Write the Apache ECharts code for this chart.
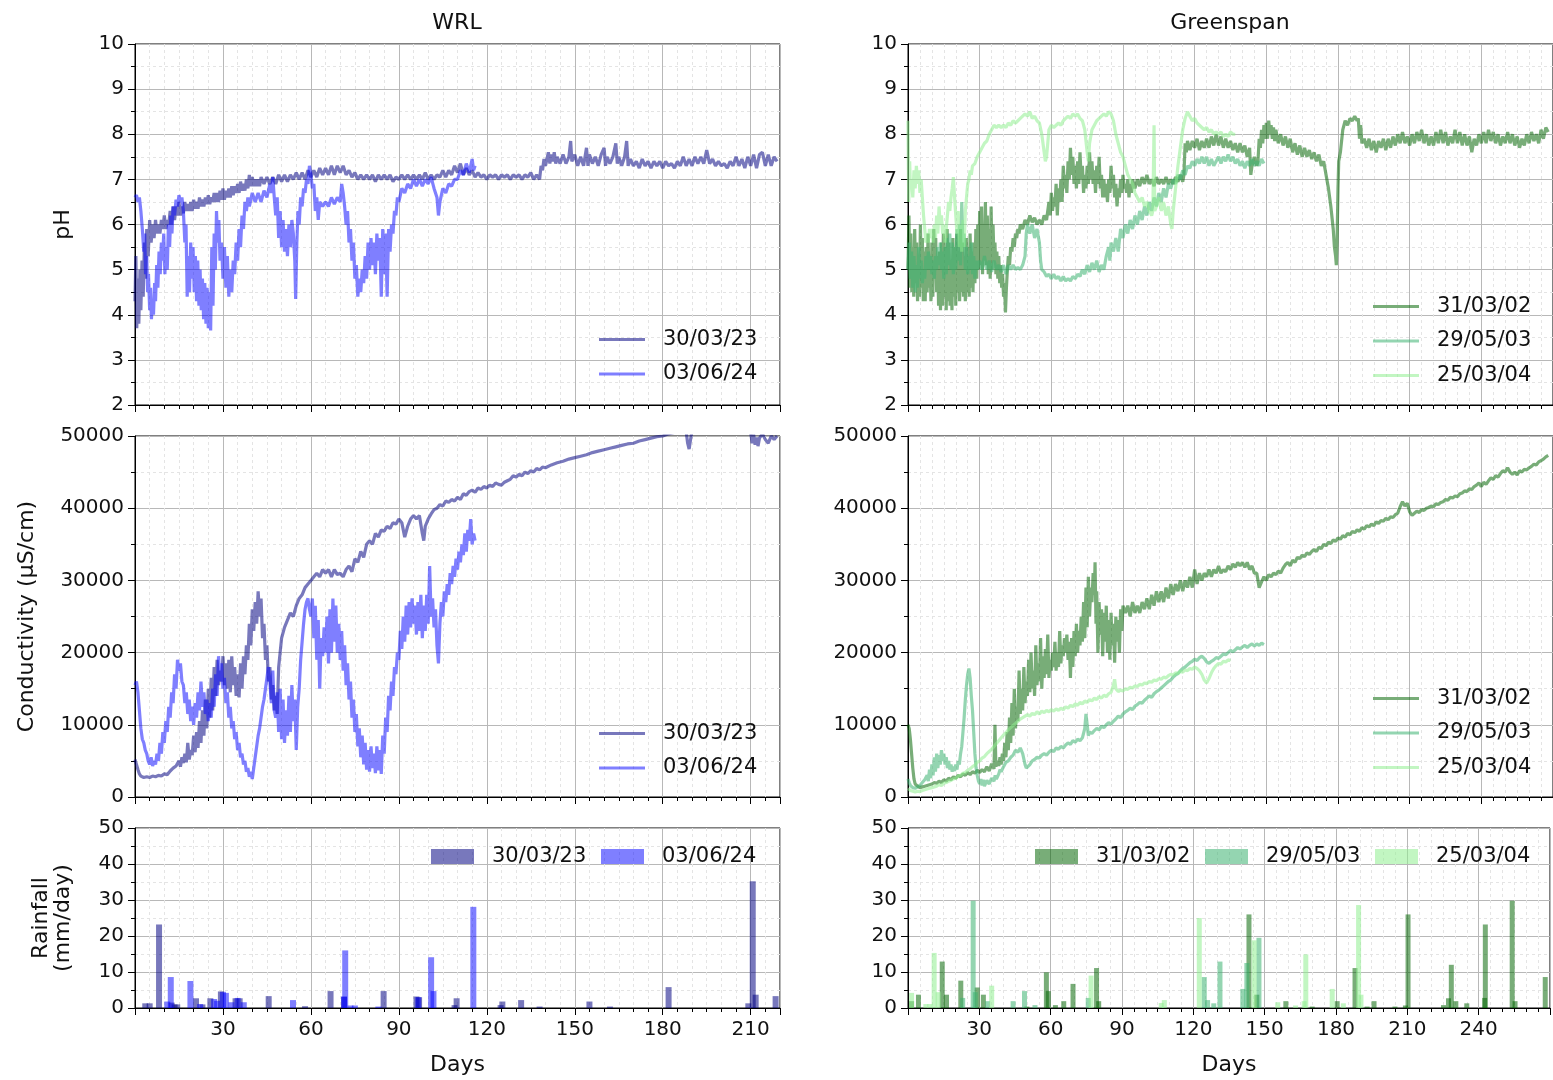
<!DOCTYPE html>
<html><head><meta charset="utf-8">
<script src="https://cdn.jsdelivr.net/npm/echarts@6/dist/echarts.min.js"></script>
<style>html,body{margin:0;padding:0;background:#fff}#c{width:1553px;height:1080px}</style>
</head><body><div id="c"></div>
<script>
// ---------------- DATA ----------------
const wrlNames = ['30/03/23', '03/06/24'];
const grnNames = ['31/03/02', '29/05/03', '25/03/04'];
const xTicksLeft = [30, 60, 90, 120, 150, 180, 210];
const xTicksRight = [30, 60, 90, 120, 150, 180, 210, 240];

// WRL pH
const wrlPh2023 = [[0,4.3],[0.3,5.3],[0.6,3.7],[1,4.8],[1.3,3.8],[1.7,5.0],[2,4.1],[2.4,5.2],[2.8,4.4],[3.2,5.6],[3.6,4.8],[4,5.9],[4.5,5.3],[5,6.1],[5.5,5.6],[6,6.0],[6.5,5.7],[7,6.1],[7.5,5.8],[8,6.0],[8.5,5.8],[9,6.1],[9.5,5.9],[10,6.2],[10.5,5.9],[11,6.1],[11.5,6.0],[12,6.3],[12.5,6.0],[13,6.4],[13.5,6.1],[14,6.4],[14.5,6.2],[15,6.5],[15.5,6.2],[16,6.4],[16.5,6.25],[17,6.5],[17.5,6.3],[18,6.45],[18.5,6.3],[19,6.5],[19.5,6.3],[20,6.55],[20.5,6.35],[21,6.5],[21.5,6.35],[22,6.6],[22.5,6.4],[23,6.55],[23.5,6.4],[24,6.6],[24.5,6.45],[25,6.65],[25.5,6.45],[26,6.6],[26.5,6.5],[27,6.7],[27.5,6.5],[28,6.7],[28.5,6.5],[29,6.75],[29.5,6.55],[30,6.8],[30.5,6.55],[31,6.75],[31.5,6.6],[32,6.8],[32.5,6.6],[33,6.85],[33.5,6.65],[34,6.85],[34.5,6.7],[35,6.9],[35.5,6.7],[36,6.95],[36.5,6.75],[37,6.9],[37.5,6.75],[38,7.0],[38.5,6.8],[39,7.1],[39.5,6.85],[40,7.05],[40.5,6.85],[41,7.0],[41.5,6.85],[42,7.0],[42.5,6.85],[43,7.05],[44,6.9],[45,7.05],[46,6.9],[47,7.05],[48,6.9],[49,7.1],[50,6.95],[51,7.1],[52,6.95],[53,7.1],[54,7.0],[55,7.15],[56,7.0],[57,7.15],[58,7.0],[59,7.2],[60,7.05],[61,7.2],[62,7.05],[63,7.25],[64,7.1],[65,7.25],[66,7.1],[67,7.3],[68,7.1],[69,7.3],[70,7.15],[71,7.3],[72,7.1],[73,7.2],[74,7.05],[75,7.15],[76,7.0],[77,7.1],[78,7.0],[79,7.1],[80,7.0],[81,7.1],[82,6.95],[83,7.1],[84,7.0],[85,7.1],[86,7.0],[87,7.1],[88,6.95],[89,7.05],[90,7.0],[91,7.1],[92,7.0],[93,7.1],[94,7.0],[95,7.1],[96,7.0],[97,7.1],[98,7.0],[99,7.15],[100,7.0],[101,7.1],[102,7.0],[103,7.1],[104,7.05],[105,7.2],[106,7.05],[107,7.2],[108,7.1],[109,7.3],[110,7.15],[111,7.35],[112,7.1],[113,7.25],[114,7.1],[115,7.2],[116,7.05],[117,7.15],[118,7.05],[119,7.1],[120,7.0],[121,7.1],[122,7.05],[123,7.1],[124,7.0],[125,7.1],[126,7.05],[127,7.1],[128,7.0],[129,7.1],[130,7.05],[131,7.1],[132,7.0],[133,7.1],[134,7.05],[135,7.15],[136,7.0],[137,7.1],[138,7.0],[138.5,7.3],[139,7.2],[139.5,7.45],[140,7.3],[141,7.6],[141.5,7.35],[142,7.55],[142.5,7.4],[143,7.6],[143.5,7.35],[144,7.5],[145,7.35],[146,7.55],[147,7.35],[148,7.5],[148.6,7.85],[149,7.4],[150,7.55],[151,7.3],[152,7.5],[153,7.3],[154,7.7],[154.5,7.3],[155,7.55],[156,7.35],[157,7.5],[158,7.3],[159,7.55],[160,7.7],[160.5,7.3],[161,7.5],[162,7.35],[163,7.5],[164,7.8],[164.5,7.35],[165,7.5],[166,7.3],[167,7.5],[167.7,7.85],[168.2,7.3],[169,7.45],[170,7.3],[171,7.4],[172,7.25],[173,7.45],[174,7.3],[175,7.4],[176,7.25],[177,7.4],[178,7.3],[179,7.4],[180,7.25],[181,7.4],[182,7.3],[183,7.35],[184,7.25],[185,7.4],[186,7.3],[187,7.5],[188,7.3],[189,7.45],[190,7.3],[191,7.5],[192,7.35],[193,7.5],[194,7.35],[195,7.65],[196,7.35],[197,7.45],[198,7.3],[199,7.4],[200,7.3],[201,7.35],[202,7.25],[203,7.4],[204,7.3],[205,7.5],[206,7.3],[207,7.45],[208,7.25],[209,7.5],[210,7.3],[211,7.55],[212,7.25],[213,7.55],[214,7.6],[215,7.3],[216,7.55],[217,7.3],[218,7.5],[219,7.4]];
const wrlPh2024 = [[0,6.6],[0.5,6.65],[1,6.5],[1.5,6.6],[2,6.3],[2.5,5.9],[3,5.4],[3.3,5.8],[3.6,4.9],[4,5.3],[4.3,4.5],[4.6,4.9],[5,4.1],[5.3,4.6],[5.6,3.9],[6,4.3],[6.3,4.0],[6.7,4.7],[7,4.3],[7.4,5.1],[7.8,4.6],[8.2,5.4],[8.6,4.9],[9,5.6],[9.4,5.2],[9.8,5.8],[10.2,4.9],[10.5,5.5],[11,5.0],[11.4,6.0],[11.8,5.5],[12.2,6.2],[12.6,5.8],[13,6.4],[13.5,6.2],[14,6.55],[14.5,6.4],[15,6.65],[15.5,6.5],[16,6.6],[16.5,6.3],[17,5.6],[17.4,6.0],[17.8,4.4],[18.2,5.3],[18.6,4.5],[19,5.6],[19.4,4.8],[19.8,5.5],[20.2,4.5],[20.6,5.3],[21,4.3],[21.4,5.2],[21.8,4.2],[22.2,5.0],[22.6,4.1],[23,4.8],[23.4,3.9],[23.8,4.7],[24.2,3.8],[24.6,4.6],[25,3.7],[25.4,4.5],[25.8,3.65],[26.2,5.5],[26.6,4.2],[27,5.8],[27.4,5.0],[27.8,6.3],[28.2,5.6],[28.6,6.1],[29,5.2],[29.5,5.6],[30,4.8],[30.5,5.5],[31,4.6],[31.5,5.3],[32,4.4],[32.5,5.0],[33,4.5],[33.5,5.2],[34,4.9],[34.5,5.6],[35,5.2],[35.5,5.9],[36,5.5],[36.5,6.2],[37,5.9],[37.5,6.5],[38,6.3],[38.5,6.6],[39,6.4],[40,6.7],[41,6.5],[42,6.7],[43,6.5],[44,6.75],[45,6.6],[46,6.9],[46.5,6.7],[47,7.05],[47.5,6.6],[48,6.2],[48.5,6.6],[49,5.7],[49.5,6.3],[50,5.5],[50.5,6.1],[51,5.4],[51.5,5.9],[52,5.3],[52.5,6.0],[53,5.5],[53.5,6.1],[54,5.8],[54.5,5.2],[54.8,4.35],[55.2,5.6],[55.6,6.3],[56,6.0],[56.5,6.6],[57,6.4],[57.5,6.8],[58,6.7],[58.5,7.0],[59,6.9],[59.5,7.3],[60,7.1],[60.5,6.8],[61,6.9],[61.5,6.3],[62,6.6],[62.5,6.1],[63,6.5],[63.5,6.5],[64,6.4],[65,6.5],[66,6.4],[67,6.6],[68,6.45],[69,6.6],[70,6.5],[70.5,6.9],[71,6.7],[71.5,6.4],[72,6.0],[72.5,6.3],[73,5.6],[73.5,5.9],[74,5.2],[74.5,5.6],[75,4.8],[75.5,5.1],[76,4.4],[76.5,4.8],[77,4.5],[77.5,5.0],[78,4.7],[78.5,5.3],[79,4.8],[79.5,5.6],[80,5.0],[80.5,5.7],[81,5.1],[81.5,5.6],[82,4.9],[82.5,5.8],[83,5.2],[83.5,5.7],[84,4.4],[84.5,5.9],[85,4.9],[85.5,5.8],[86,4.4],[86.5,5.9],[87,5.4],[87.5,6.0],[88,5.8],[88.5,6.3],[89,6.2],[89.5,6.6],[90,6.5],[91,6.8],[92,6.7],[93,6.9],[94,6.8],[95,7.0],[96,6.85],[97,7.0],[98,6.85],[99,7.0],[100,6.9],[101,7.05],[102,6.8],[103,6.6],[103.5,6.2],[104,6.5],[105,6.8],[106,6.7],[107,6.9],[108,6.85],[109,7.0],[110,7.0],[111,7.2],[112,7.1],[113,7.35],[114,7.15],[115,7.45],[115.5,7.2],[116,7.3]];

// WRL conductivity (uS/cm)
const wrlEc2023 = [[0,5200],[0.5,4500],[1,3800],[1.5,3200],[2,2900],[3,2700],[4,2800],[5,2700],[6,2900],[7,2800],[8,3000],[9,2900],[10,3200],[11,3100],[12,3600],[13,4000],[14,4300],[15,5000],[15.5,4200],[16,5500],[16.5,4700],[17,6000],[17.5,4800],[18,7500],[18.5,5200],[19,6500],[19.5,5800],[20,8500],[20.5,6200],[21,9000],[21.5,6800],[22,10500],[22.5,7500],[23,12000],[23.5,8500],[24,13500],[24.5,9500],[25,15000],[25.5,11000],[26,16500],[26.5,12000],[27,18000],[27.5,14000],[28,19000],[28.5,15500],[29,17500],[29.5,16000],[30,19500],[30.5,15500],[31,18500],[31.5,15000],[32,19000],[32.5,14500],[33,19500],[33.5,15500],[34,18000],[34.5,14000],[35,17000],[35.5,13800],[36,18500],[36.5,15000],[37,19500],[37.5,17000],[38,21000],[38.5,19000],[39,24000],[39.5,21000],[40,26000],[40.5,23000],[41,27000],[41.5,24000],[42,28500],[42.5,25000],[43,27500],[43.5,22000],[44,24000],[44.5,19000],[45,21000],[45.5,16000],[46,18000],[46.5,13500],[47,15500],[47.5,12000],[48,14000],[48.5,11500],[49,18000],[49.5,20000],[50,22000],[51,23500],[52,24500],[53,25500],[54,25000],[55,26500],[56,27500],[57,28000],[58,29000],[59,29500],[60,30000],[61,30500],[62,31000],[63,30500],[64,31500],[65,31000],[66,31500],[67,30500],[68,31500],[69,30800],[70,31000],[71,30500],[72,31500],[73,32000],[74,31200],[75,33000],[76,32500],[77,34000],[78,33200],[79,35000],[80,35500],[81,35000],[82,36500],[83,36000],[84,37000],[85,36800],[86,37500],[87,37200],[88,38000],[89,37800],[90,38500],[91,38000],[92,36000],[93,37500],[94,38500],[95,39000],[96,38500],[97,39000],[98,36500],[98.5,35500],[99,37500],[100,38500],[101,39200],[102,39800],[103,40000],[104,40500],[105,40300],[106,41000],[107,40800],[108,41200],[109,41000],[110,41500],[111,41200],[112,42000],[113,41800],[114,42300],[115,42500],[116,42200],[117,42800],[118,42600],[119,43000],[120,42800],[121,43200],[122,43000],[123,43500],[124,43300],[125,43200],[126,43600],[127,43800],[128,44000],[129,44500],[130,44300],[131,44700],[132,44500],[133,45000],[134,44800],[135,45200],[136,45000],[137,45500],[138,45300],[139,45700],[140,45600],[142,46000],[144,46300],[146,46500],[148,46800],[150,47000],[152,47200],[154,47400],[156,47700],[158,47900],[160,48100],[162,48300],[164,48500],[166,48700],[168,48900],[170,49000],[172,49300],[174,49500],[176,49700],[178,49900],[180,50000],[182,50300],[184,50500],[186,50800],[188,50600],[188.5,49000],[189,48200],[189.5,49500],[190,50800],[192,51200],[195,51500],[200,51800],[205,52000],[209,52200],[210,50500],[210.5,49000],[211,50200],[211.5,48800],[212,49800],[212.5,48600],[213,49700],[214,50300],[215,49500],[216,49000],[217,50000],[218,49500],[219,50000]];
const wrlEc2024 = [[0,15500],[0.5,16000],[1,14500],[1.5,12000],[2,9500],[2.5,8000],[3,7500],[3.5,6500],[4,6000],[4.5,5000],[5,4500],[5.5,5500],[6,4300],[6.5,5000],[7,4500],[7.5,6000],[8,5000],[8.5,7500],[9,6000],[9.5,9000],[10,7500],[10.5,10500],[11,9000],[11.5,12500],[12,11000],[12.5,14500],[13,13000],[13.5,17000],[14,15000],[14.5,19000],[15,17500],[15.5,18500],[16,16000],[16.5,15500],[17,13000],[17.5,14500],[18,11500],[18.5,13500],[19,10500],[19.5,12500],[20,10000],[20.5,13000],[21,11000],[21.5,14500],[22,12000],[22.5,16000],[23,12500],[23.5,14500],[24,11500],[24.5,13500],[25,10500],[25.5,13000],[26,11000],[26.5,15000],[27,12500],[27.5,17000],[28,14000],[28.5,19500],[29,16000],[29.5,18500],[30,15000],[30.5,16500],[31,13000],[31.5,14500],[32,11000],[32.5,12500],[33,9500],[33.5,10500],[34,8000],[34.5,9000],[35,6500],[35.5,7500],[36,5500],[36.5,6000],[37,4500],[37.5,5000],[38,3500],[38.5,4000],[39,2800],[39.5,3500],[40,2500],[40.5,4000],[41,5500],[41.5,7000],[42,8500],[42.5,9500],[43,11000],[43.5,12500],[44,13500],[44.5,15000],[45,16500],[45.5,18000],[46,16000],[46.5,13000],[47,17500],[47.5,12000],[48,11000],[48.5,14500],[49,9000],[49.5,15000],[50,8000],[50.5,13500],[51,7500],[51.5,12000],[52,8500],[52.5,14000],[53,9000],[53.5,15500],[54,10500],[54.5,13500],[55,6500],[55.5,12500],[56,15000],[56.5,19000],[57,21500],[57.5,24000],[58,26000],[58.5,27000],[59,27500],[59.5,26000],[60,25000],[60.5,27500],[61,22000],[61.5,26500],[62,19000],[62.5,24500],[63,15000],[63.5,22000],[64,19500],[64.5,23500],[65,20000],[65.5,25000],[66,18500],[66.5,26000],[67,20000],[67.5,27500],[68,21500],[68.5,26500],[69,20000],[69.5,24000],[70,19000],[70.5,23000],[71,17500],[71.5,21000],[72,15500],[72.5,18500],[73,13500],[73.5,16000],[74,11000],[74.5,13500],[75,9000],[75.5,11500],[76,7000],[76.5,9500],[77,5500],[77.5,8500],[78,4500],[78.5,7500],[79,3800],[79.5,6500],[80,3500],[80.5,7000],[81,4000],[81.5,6000],[82,3300],[82.5,7000],[83,3700],[83.5,6500],[84,3200],[84.5,8500],[85,6000],[85.5,11000],[86,9000],[86.5,14000],[87,12000],[87.5,16000],[88,14000],[88.5,18000],[89,17000],[89.5,20000],[90,19000],[90.5,23000],[91,20500],[91.5,25000],[92,21500],[92.5,26500],[93,22500],[93.5,27000],[94,23500],[94.5,27500],[95,24000],[95.5,26500],[96,22500],[96.5,27000],[97,23000],[97.5,28000],[98,22000],[98.5,26500],[99,23000],[99.5,28000],[100,24000],[100.5,32000],[101,25000],[101.5,27500],[102,23500],[102.5,26000],[103,21000],[103.5,18500],[104,24000],[104.5,27000],[105,25000],[105.5,28500],[106,27000],[106.5,29500],[107,28000],[107.5,31000],[108,29500],[108.5,32000],[109,30500],[109.5,33000],[110,31500],[110.5,34000],[111,32500],[111.5,35000],[112,33500],[112.5,36500],[113,34000],[113.5,37000],[114,35500],[114.5,38500],[115,35000],[115.5,36500],[116,35500]];

// WRL rainfall (mm/day)
const wrlRain2023 = [[3.5,1.3],[5,1.3],[8.2,23.2],[12.5,1.5],[13.5,1],[14.4,1],[20.8,2.7],[23,1],[25.7,2.7],[29.3,4.6],[34.3,2.7],[35.7,2.7],[45.6,3.3],[58,0.5],[66.7,4.7],[71.3,3.1],[84.8,4.7],[96,3.2],[96.9,3],[109,0.8],[109.7,2.7],[124.7,0.8],[125.3,1.8],[131.7,2.2],[138,0.4],[155,1.8],[162,0.4],[182,5.8],[209.2,1.3],[210.7,35.2],[211.7,3.7],[218.5,3.3]];
const wrlRain2024 = [[11,1.8],[12.2,8.6],[18.9,7.5],[22.2,1.1],[27,2.5],[28,2],[30,4.5],[31,4.2],[32.9,1.6],[35,2.8],[37.1,1.6],[53.9,2.2],[71.3,3.2],[71.7,16.0],[73.5,0.7],[75,0.7],[83,0.4],[96.6,3],[101,14.1],[101.8,4.7],[115.4,28.1]];

// Greenspan pH
const grnPh2002 = [[0,5.0],[0.4,6.2],[0.8,4.6],[1.2,5.8],[1.6,4.5],[2,5.5],[2.4,4.4],[2.8,5.9],[3.2,4.7],[3.6,5.6],[4,4.3],[4.4,5.3],[4.8,4.4],[5.2,6.0],[5.6,4.6],[6,5.7],[6.4,4.3],[6.8,5.4],[7.2,4.3],[7.6,5.5],[8,4.5],[8.4,5.8],[8.8,4.6],[9.2,5.3],[9.6,4.3],[10,5.6],[10.4,4.4],[10.8,5.9],[11.2,4.8],[11.6,5.7],[12,4.5],[12.4,5.3],[12.8,4.2],[13.2,5.4],[13.6,4.1],[14,5.6],[14.4,4.2],[14.8,5.8],[15.2,4.4],[15.6,5.5],[16,4.1],[16.4,5.9],[16.8,4.3],[17.2,5.6],[17.6,4.2],[18,5.2],[18.4,4.1],[18.8,5.7],[19.2,4.4],[19.6,5.5],[20,4.2],[20.4,5.8],[20.8,4.5],[21.2,5.4],[21.6,4.3],[22,5.9],[22.4,4.5],[22.8,5.6],[23.2,4.4],[23.6,5.3],[24,4.3],[24.4,5.7],[24.8,4.5],[25.2,5.5],[25.6,4.4],[26,5.8],[26.4,4.6],[26.8,5.4],[27.2,4.5],[27.6,5.6],[28,4.7],[28.4,5.9],[28.8,4.8],[29.2,6.0],[29.6,5.0],[30,6.3],[30.4,5.1],[30.8,6.4],[31.2,4.9],[31.6,5.8],[32,5.2],[32.4,6.5],[32.8,5.1],[33.2,6.2],[33.6,4.9],[34,5.9],[34.4,4.8],[34.8,6.4],[35.2,5.0],[35.6,6.0],[36,5.2],[36.4,5.6],[36.8,4.9],[37.2,5.4],[37.6,4.8],[38,5.3],[38.4,4.7],[38.8,5.1],[39.2,4.6],[39.6,4.9],[40,4.4],[40.4,4.7],[40.8,4.05],[41.2,4.6],[41.6,5.0],[42,5.3],[42.5,5.1],[43,5.5],[43.5,5.4],[44,5.7],[44.5,5.5],[45,5.8],[45.5,5.7],[46,5.9],[46.5,5.8],[47,6.0],[48,5.9],[49,6.1],[50,6.0],[51,6.2],[52,6.05],[53,6.15],[54,6.0],[55,6.1],[56,6.0],[57,6.2],[58,6.1],[59,6.5],[59.5,6.2],[60,6.7],[60.5,6.3],[61,6.6],[61.5,6.4],[62,6.9],[62.5,6.2],[63,6.8],[63.5,6.5],[64,7.0],[64.5,6.5],[65,7.3],[65.5,6.8],[66,7.1],[66.5,6.7],[67,7.4],[67.5,7.0],[68,7.7],[68.5,7.1],[69,7.5],[69.5,6.9],[70,7.3],[70.5,6.8],[71,7.4],[71.5,6.9],[72,7.6],[72.5,7.0],[73,7.3],[73.5,6.7],[74,7.1],[74.5,6.8],[75,7.3],[75.5,6.9],[76,7.6],[76.5,7.0],[77,7.4],[77.5,6.9],[78,7.2],[78.5,6.7],[79,7.3],[79.5,6.9],[80,7.5],[80.5,6.8],[81,7.1],[81.5,6.6],[82,7.0],[82.5,6.6],[83,6.9],[83.5,6.5],[84,7.0],[84.5,6.7],[85,7.3],[85.5,6.8],[86,7.1],[86.5,6.6],[87,6.9],[87.5,6.4],[88,6.8],[88.5,6.6],[89,7.0],[89.5,6.7],[90,7.1],[90.5,6.8],[91,6.9],[91.5,6.7],[92,7.0],[92.5,6.6],[93,6.9],[93.5,6.7],[94,7.0],[95,6.8],[96,7.0],[97,6.85],[98,7.05],[99,6.9],[100,7.1],[101,6.9],[102,7.0],[103,6.85],[104,7.05],[105,6.9],[106,7.0],[107,6.9],[108,7.05],[109,6.9],[110,7.0],[111,6.9],[112,7.05],[113,6.95],[114,7.1],[115,6.95],[115.5,7.1],[116,7.8],[116.5,7.6],[117,7.85],[118,7.65],[119,7.85],[120,7.7],[121,7.9],[122,7.65],[123,7.85],[124,7.7],[125,7.9],[126,7.7],[127,7.95],[128,7.75],[129,8.0],[130,7.75],[131,7.95],[132,7.7],[133,7.9],[134,7.7],[135,7.85],[136,7.65],[137,7.8],[138,7.6],[139,7.8],[140,7.6],[141,7.75],[142,7.5],[143,7.7],[143.5,7.1],[144,7.3],[145,7.5],[146,7.3],[146.5,7.4],[147,7.9],[147.5,7.7],[148,8.1],[148.5,7.8],[149,8.2],[149.5,7.9],[150,8.25],[150.5,7.9],[151,8.3],[151.5,8.0],[152,8.2],[152.5,7.9],[153,8.15],[153.5,7.85],[154,8.1],[155,7.8],[156,8.0],[157,7.75],[158,7.95],[159,7.7],[160,7.9],[161,7.6],[162,7.8],[163,7.55],[164,7.75],[165,7.5],[166,7.7],[167,7.5],[168,7.65],[169,7.45],[170,7.6],[171,7.4],[172,7.55],[173,7.3],[174,7.4],[175,7.1],[176,6.8],[177,6.4],[178,5.9],[178.5,5.5],[179,5.3],[179.3,5.1],[179.6,5.6],[180,6.8],[180.3,7.4],[181,7.6],[182,8.1],[183,8.3],[184,8.2],[185,8.35],[186,8.3],[187,8.4],[188,8.3],[188.5,8.35],[189,7.9],[189.5,8.2],[190,7.8],[191,7.9],[192,7.7],[193,7.9],[194,7.65],[195,7.85],[196,7.6],[197,7.85],[198,7.7],[199,7.9],[200,7.65],[201,7.9],[202,7.7],[203,7.95],[204,7.75],[205,8.0],[206,7.8],[207,8.05],[208,7.8],[209,7.95],[210,7.75],[211,8.0],[212,7.8],[213,8.05],[214,7.85],[215,8.1],[216,7.8],[217,8.0],[218,7.75],[219,7.95],[220,7.75],[221,8.05],[222,7.8],[223,8.1],[224,7.8],[225,8.05],[226,7.75],[227,7.95],[228,7.8],[229,8.1],[230,7.8],[231,8.05],[232,7.75],[233,8.0],[234,7.75],[235,7.95],[236,7.6],[237,7.9],[238,7.75],[239,8.0],[240,7.8],[241,8.05],[242,7.8],[243,8.1],[244,7.85],[245,8.05],[246,7.8],[247,8.0],[248,7.75],[249,7.95],[250,7.8],[251,8.05],[252,7.8],[253,8.0],[254,7.75],[255,7.95],[256,7.7],[257,7.9],[258,7.75],[259,8.0],[260,7.8],[261,8.05],[262,7.85],[263,8.0],[264,7.8],[265,8.1],[266,7.9],[267,8.15],[268,8.05]];
const grnPh2003 = [[0,5.0],[0.5,5.6],[1,4.8],[1.5,5.4],[2,4.6],[2.5,5.3],[3,4.5],[3.5,5.1],[4,4.6],[4.5,5.5],[5,4.8],[5.5,5.2],[6,4.7],[6.5,5.0],[7,4.8],[7.5,5.3],[8,5.0],[8.5,5.4],[9,5.0],[9.5,5.3],[10,4.9],[10.5,5.2],[11,4.8],[11.5,5.3],[12,5.0],[12.5,5.5],[13,5.1],[13.5,5.6],[14,5.0],[14.5,5.4],[15,4.8],[15.5,5.5],[16,4.9],[16.5,5.7],[17,5.1],[17.5,5.8],[18,5.0],[18.5,5.6],[19,4.9],[19.5,5.5],[20,5.0],[20.5,5.9],[21,5.2],[21.5,6.0],[22,5.1],[22.5,6.5],[23,5.5],[23.5,5.8],[24,5.0],[24.5,5.5],[25,4.9],[25.5,5.3],[26,5.0],[26.5,5.6],[27,4.9],[27.5,5.3],[28,4.8],[28.5,5.2],[29,5.0],[30,5.2],[31,5.0],[32,5.3],[33,5.0],[34,5.2],[35,4.95],[36,5.2],[37,5.0],[38,5.1],[39,4.95],[40,5.1],[41,4.9],[42,5.1],[43,5.0],[44,5.1],[45,5.0],[46,5.05],[47,5.0],[48,5.1],[49,5.3],[49.5,5.8],[50,6.0],[51,5.8],[52,6.0],[53,5.7],[54,5.9],[55,5.6],[55.5,5.2],[56,5.0],[57,4.95],[58,4.85],[59,4.9],[60,4.8],[61,4.9],[62,4.8],[63,4.85],[64,4.75],[65,4.85],[66,4.75],[67,4.8],[68,4.75],[69,4.85],[70,4.8],[71,4.9],[72,4.85],[73,5.0],[74,4.9],[75,5.1],[76,4.95],[77,5.15],[78,5.0],[79,5.2],[80,4.95],[81,5.1],[82,5.0],[83,5.3],[84,5.5],[84.5,5.2],[85,5.6],[86,5.4],[87,5.7],[88,5.4],[89,5.9],[90,5.7],[91,6.0],[92,5.8],[93,6.1],[94,5.9],[95,6.2],[96,6.0],[97,6.3],[98,6.1],[99,6.4],[100,6.2],[101,6.5],[102,6.3],[103,6.6],[104,6.4],[105,6.7],[106,6.5],[107,6.8],[108,6.6],[109,6.9],[110,6.8],[111,7.0],[112,6.9],[113,7.1],[114,7.0],[115,7.2],[116,7.1],[117,7.3],[118,7.25],[119,7.4],[120,7.3],[121,7.45],[122,7.35],[123,7.5],[124,7.35],[125,7.5],[126,7.3],[127,7.45],[128,7.3],[129,7.4],[130,7.5],[131,7.35],[132,7.5],[133,7.4],[134,7.55],[135,7.4],[136,7.5],[137,7.35],[138,7.45],[139,7.3],[140,7.4],[141,7.25],[142,7.4],[143,7.3],[144,7.45],[145,7.3],[146,7.4],[147,7.3],[148,7.45],[149,7.35]];
const grnPh2004 = [[0,8.3],[0.3,6.5],[0.7,7.4],[1,6.8],[1.5,7.0],[2,6.6],[2.5,7.2],[3,6.8],[3.5,7.3],[4,6.9],[4.5,7.2],[5,6.7],[5.5,7.0],[6,6.6],[6.5,6.2],[7,5.9],[7.5,5.6],[8,5.8],[8.5,5.6],[9,5.9],[9.5,5.7],[10,5.9],[10.5,5.6],[11,6.0],[11.5,5.7],[12,6.2],[12.5,5.8],[13,6.4],[13.5,6.0],[14,6.2],[14.5,5.8],[15,6.0],[15.5,5.6],[16,5.9],[16.5,6.2],[17,6.5],[17.5,6.3],[18,6.6],[18.5,6.8],[19,7.05],[19.5,6.6],[20,6.2],[20.5,5.8],[21,6.3],[21.5,5.5],[22,6.0],[22.5,5.4],[23,6.1],[23.5,5.5],[24,6.3],[24.5,6.6],[25,6.9],[25.5,7.0],[26,7.2],[26.5,7.1],[27,7.3],[28,7.35],[29,7.5],[30,7.6],[31,7.7],[32,7.8],[33,7.85],[34,8.0],[35,8.1],[36,8.2],[37,8.15],[38,8.2],[39,8.15],[40,8.2],[41,8.15],[42,8.25],[43,8.2],[44,8.3],[45,8.25],[46,8.3],[47,8.35],[48,8.4],[49,8.45],[50,8.4],[51,8.5],[52,8.35],[53,8.4],[54,8.3],[55,8.25],[56,8.0],[57,7.6],[57.5,7.4],[58,7.5],[58.5,7.8],[59,8.1],[60,8.2],[61,8.15],[62,8.2],[63,8.25],[64,8.2],[65,8.3],[66,8.35],[67,8.4],[68,8.35],[69,8.45],[70,8.4],[71,8.45],[72,8.35],[73,8.3],[74,8.1],[75,7.6],[75.5,7.4],[76,7.8],[77,8.1],[78,8.2],[79,8.3],[80,8.35],[81,8.4],[82,8.45],[83,8.4],[84,8.5],[85,8.45],[86,8.3],[87,8.0],[88,7.8],[89,7.6],[90,7.5],[91,7.3],[92,7.1],[93,7.0],[94,6.9],[95,6.7],[96,6.6],[97,6.5],[98,6.6],[99,6.4],[100,6.5],[101,6.3],[102,6.2],[102.5,6.3],[103,8.2],[103.3,6.3],[104,6.4],[105,6.6],[106,6.3],[107,6.5],[108,6.2],[109,6.4],[110,6.0],[110.5,5.9],[111,6.3],[112,6.8],[113,7.3],[114,7.7],[115,8.1],[116,8.35],[117,8.5],[118,8.4],[119,8.3],[120,8.35],[121,8.25],[122,8.2],[123,8.15],[124,8.1],[125,8.15],[126,8.05],[127,8.1],[128,8.0],[129,8.05],[130,8.0],[131,8.05],[132,7.95],[133,8.0],[134,7.95],[135,8.05],[136,8.0],[137,8.0]];

// Greenspan conductivity (uS/cm)
const grnEc2002 = [[0,10000],[0.5,9500],[1,8000],[1.5,6000],[2,4000],[2.5,2500],[3,1800],[4,1500],[5,1300],[6,1400],[7,1500],[8,1600],[9,1700],[10,1800],[11,2000],[12,1900],[13,2200],[14,2000],[15,2400],[16,2200],[17,2600],[18,2400],[19,2800],[20,2600],[21,3000],[22,2800],[23,3200],[24,3000],[25,3400],[26,3100],[27,3500],[28,3300],[29,3700],[30,3400],[31,3800],[32,3500],[33,4200],[34,3600],[35,4600],[36,3900],[36.4,10000],[36.8,4200],[37.5,5000],[38,4300],[38.5,5500],[39,4500],[39.5,6000],[40,5000],[40.5,7500],[41,5500],[41.5,9000],[42,6500],[42.5,11000],[43,7500],[43.5,13000],[44,8500],[44.5,15000],[45,9500],[45.5,12500],[46,10500],[46.5,17500],[47,11500],[47.5,15000],[48,12000],[48.5,18000],[49,13000],[49.5,16000],[50,14000],[50.5,19000],[51,14500],[51.5,20000],[52,15000],[52.5,17500],[53,14000],[53.5,21000],[54,15500],[54.5,18500],[55,16000],[55.5,22000],[56,15000],[56.5,19500],[57,16500],[57.5,20500],[58,17000],[58.5,22500],[59,16500],[59.5,19000],[60,17500],[60.5,20000],[61,18000],[61.5,21500],[62,17500],[62.5,20000],[63,18000],[63.5,23000],[64,18500],[64.5,21000],[65,19500],[65.5,22000],[66,20000],[66.5,22500],[67,19000],[67.5,21500],[68,16500],[68.5,22000],[69,18000],[69.5,23000],[70,19500],[70.5,24000],[71,20000],[71.5,23000],[72,21000],[72.5,25000],[73,21500],[73.5,27000],[74,22000],[74.5,29000],[75,23500],[75.5,30500],[76,25000],[76.5,29000],[77,27000],[77.5,31000],[78,28000],[78.3,32500],[78.7,24000],[79,28500],[79.5,20000],[80,27000],[80.5,22500],[81,26000],[81.5,19500],[82,25500],[82.5,21500],[83,26500],[83.5,20000],[84,24500],[84.5,19000],[85,25500],[85.5,21000],[86,24000],[86.5,18600],[87,25000],[87.5,21500],[88,24500],[88.5,20000],[89,26000],[89.5,23000],[90,26500],[91,25500],[92,26500],[93,25000],[94,27000],[95,25500],[96,26500],[97,25500],[98,27000],[99,26000],[100,27500],[101,26000],[102,28000],[103,26500],[104,28500],[105,27000],[106,28500],[107,27000],[108,29000],[109,27500],[110,29500],[111,28000],[112,29500],[113,28500],[114,30000],[115,28500],[116,30000],[117,29000],[118,30500],[119,29000],[120,31500],[121,29500],[122,31000],[123,30000],[124,31000],[125,30500],[126,31500],[127,30500],[128,31500],[129,31000],[130,32000],[131,31000],[132,31500],[133,31200],[134,32000],[135,31500],[136,32300],[137,31800],[138,32500],[139,32000],[140,32500],[141,31800],[142,32500],[143,31500],[144,32000],[145,31000],[146,31000],[147,29000],[148,29800],[149,30500],[150,30000],[151,30800],[152,30500],[153,31000],[154,30800],[155,31300],[156,31000],[157,31700],[158,32200],[159,32500],[160,32000],[161,32800],[162,32500],[163,33200],[164,33000],[165,33500],[166,33300],[167,33800],[168,33600],[169,34000],[170,34300],[171,34000],[172,34600],[173,34400],[174,35000],[175,34800],[176,35300],[177,35100],[178,35600],[179,35400],[180,35900],[181,35700],[182,36200],[183,36000],[184,36500],[185,36300],[186,36800],[187,36600],[188,37000],[189,36800],[190,37300],[191,37100],[192,37600],[193,37400],[194,37800],[195,37600],[196,38100],[197,37900],[198,38300],[199,38200],[200,38600],[201,38400],[202,38800],[203,38700],[204,39100],[205,39300],[206,40200],[207,40900],[208,40300],[209,40700],[210,39500],[211,39000],[212,39300],[213,39600],[214,39400],[215,39800],[216,39700],[217,40000],[218,40100],[219,40300],[220,40200],[221,40600],[222,40500],[223,40800],[224,40900],[225,41200],[226,41100],[227,41500],[228,41400],[229,41700],[230,41600],[231,42000],[232,42100],[233,42400],[234,42300],[235,42700],[236,42600],[237,43000],[238,43200],[239,43500],[240,43000],[241,43600],[242,43300],[243,43800],[244,44200],[245,44000],[246,44500],[247,44300],[248,44800],[249,45200],[250,45000],[251,45600],[252,45000],[253,44700],[254,45000],[255,44600],[256,45200],[257,45000],[258,45400],[259,45300],[260,45600],[261,45800],[262,46100],[263,46000],[264,46400],[265,46600],[266,46800],[267,47100],[268,47300]];
const grnEc2003 = [[0,2500],[0.5,2000],[1,1600],[2,1300],[3,1200],[4,1400],[5,1600],[6,2000],[7,2400],[8,3000],[8.5,2200],[9,3800],[9.5,2600],[10,4500],[10.5,3000],[11,5500],[11.5,3500],[12,6000],[12.5,4000],[13,5800],[13.5,4500],[14,6500],[14.5,5000],[15,6000],[15.5,4500],[16,5500],[16.5,4000],[17,5000],[17.5,3800],[18,4500],[18.5,3500],[19,4200],[19.5,3600],[20,4500],[20.5,3800],[21,5000],[21.5,4500],[22,6000],[22.5,7000],[23,9000],[23.5,11000],[24,13500],[24.5,15500],[25,17000],[25.5,17800],[26,16500],[26.5,14000],[27,12000],[27.5,9000],[28,6000],[28.5,4000],[29,3000],[29.5,2200],[30,1800],[30.5,2500],[31,1600],[31.5,2400],[32,1500],[33,2300],[34,1800],[35,2600],[36,2200],[36.5,3000],[37,2500],[38,3200],[38.5,3800],[39,3500],[40,4200],[41,4800],[42,5000],[43,5500],[44,5800],[45,6500],[46,6200],[47,6800],[48,6000],[49,4500],[49.5,4000],[50,3800],[51,4500],[52,5000],[53,5200],[54,5500],[55,5400],[56,5800],[57,6000],[58,5800],[59,6200],[60,6500],[61,6300],[62,6800],[63,6600],[64,7000],[65,6800],[66,7200],[67,7500],[68,7300],[69,7800],[70,7600],[71,8000],[72,7800],[73,8200],[74,9500],[74.5,11500],[75,10000],[75.5,8500],[76,9000],[77,8800],[78,9200],[79,9500],[80,9300],[81,9800],[82,9600],[83,10000],[84,10300],[85,10100],[86,10500],[87,10800],[88,11200],[89,11000],[90,11500],[91,11800],[92,12000],[93,12300],[94,12100],[95,12600],[96,12800],[97,13100],[98,13000],[99,13400],[100,13700],[101,14000],[102,13800],[103,14300],[104,14600],[105,14800],[106,15100],[107,15400],[108,15700],[109,16000],[110,16200],[111,16600],[112,16900],[113,17100],[114,17500],[115,17800],[116,18000],[117,18300],[118,18600],[119,18800],[120,19100],[121,18900],[122,19300],[123,19500],[124,19200],[125,18700],[126,18500],[127,18800],[128,19000],[129,19300],[130,19200],[131,19500],[132,19800],[133,19700],[134,20000],[135,20300],[136,20100],[137,20400],[138,20700],[139,20500],[140,20800],[141,21000],[142,20700],[143,21000],[144,21200],[145,20900],[146,21200],[147,21000],[148,21300],[149,21100]];
const grnEc2004 = [[0,1200],[1,900],[2,800],[3,700],[4,800],[5,750],[6,900],[7,1000],[8,1100],[9,1200],[10,1300],[11,1400],[12,1500],[13,1700],[14,1600],[15,1900],[16,2000],[17,2200],[18,2300],[19,2500],[20,2600],[21,2900],[22,3000],[23,3300],[24,3400],[25,3700],[26,3900],[27,4200],[28,4400],[29,4800],[30,5000],[31,5400],[32,5600],[33,6000],[34,6300],[35,6600],[36,7000],[37,7400],[38,7800],[39,8200],[40,8600],[41,8900],[42,9300],[43,9600],[44,9900],[45,10200],[46,10500],[47,10800],[48,11000],[49,11200],[50,11400],[51,11200],[52,11600],[53,11400],[54,11800],[55,11500],[56,11900],[57,11700],[58,12000],[59,11800],[60,12100],[61,11900],[62,12200],[63,12000],[64,12300],[65,12100],[66,12500],[67,12300],[68,12700],[69,12500],[70,12900],[71,12700],[72,13100],[73,12900],[74,13300],[75,13100],[76,13500],[77,13300],[78,13700],[79,13500],[80,13900],[81,13700],[82,14100],[83,13900],[84,14300],[85,14500],[86,15500],[86.5,16300],[87,15000],[88,14600],[89,14800],[90,14700],[91,15000],[92,14900],[93,15200],[94,15100],[95,15400],[96,15300],[97,15600],[98,15500],[99,15800],[100,15700],[101,16000],[102,15900],[103,16200],[104,16100],[105,16400],[106,16300],[107,16600],[108,16500],[109,16800],[110,17000],[111,16900],[112,17200],[113,17100],[114,17400],[115,17300],[116,17600],[117,17500],[118,17800],[119,17700],[120,18000],[121,17800],[122,17500],[123,17000],[124,16200],[125,15800],[126,16400],[127,17200],[128,17800],[129,18200],[130,18500],[131,18400],[132,18800],[133,18700],[134,19000],[135,18900]];

// Greenspan rainfall (mm/day)
const grnRain2002 = [[1.5,1.9],[4.4,3.7],[14.4,12.9],[16.2,3.7],[22.2,7.6],[29.1,5.7],[31.7,3.7],[50,0.4],[58.2,9.9],[59,4.7],[62,0.8],[65.5,1.9],[69.4,6.7],[79.3,11.1],[80.2,1.9],[143.4,26],[146.7,3.7],[158.9,1.9],[170,0.4],[180.5,1.9],[188,11.1],[193.1,0.4],[196,1.9],[204.8,0.4],[209.2,0.7],[210.3,26],[225.2,0.8],[227.3,2.7],[228.5,12],[230.4,1.9],[235,1.3],[242.5,2.8],[242.8,23.2],[254.1,29.8],[255.3,1.9],[268,8.6]];
const grnRain2003 = [[23,2.8],[27.4,29.8],[28.3,4.4],[33.5,1.9],[44.2,1.9],[49,4.7],[53.4,0.8],[75.8,2.8],[124.6,8.6],[126,2.2],[128.6,1.3],[131.2,12.9],[140.8,5.3],[142.5,12.5],[147.6,19.5]];
const grnRain2004 = [[1.5,4.2],[7.5,1.1],[9.2,1.1],[11,15.3],[12.7,4.4],[35.2,6.2],[77,9],[106.5,1.4],[107.8,2.2],[122.5,25],[145.6,18.8],[155.5,1.6],[163,0.7],[166.6,1.9],[167.3,14.9],[178.4,5.3],[183.1,1.3],[189.5,28.6],[190.5,3.7]];

// ---------------- CHART ----------------
const FONT = 'DejaVu Sans';
const TXT = '#111';
const colWRL = ['rgba(0,0,128,0.53)', 'rgba(0,0,255,0.5)'];
const colGRN = ['rgba(0,100,0,0.53)', 'rgba(60,179,113,0.55)', 'rgba(144,238,144,0.55)'];

const cols = [{ left: 135, width: 645, max: 220, ticks: xTicksLeft }, { left: 908, width: 645, max: 270, ticks: xTicksRight }];
const rows = [{ top: 44, height: 361, min: 2, max: 10, interval: 1 },
              { top: 436, height: 361, min: 0, max: 50000, interval: 10000 },
              { top: 828, height: 180, min: 0, max: 50, interval: 10 }];

const grids = [], xAxes = [], yAxes = [], series = [], legends = [];
rows.forEach((r, ri) => cols.forEach((c, ci) => {
  const g = ri * 2 + ci;
  grids.push({ left: c.left, top: r.top, width: c.width, height: r.height, show: true,
    borderColor: '#000', borderWidth: 1, backgroundColor: 'transparent' });
  // minor x axis (5-day steps)
  xAxes.push({ type: 'value', gridIndex: g, position: 'bottom', min: 0, max: c.max, interval: 5,
    axisLine: { show: false }, axisTick: { show: true, length: 4, lineStyle: { color: '#000' } },
    axisLabel: { show: false },
    splitLine: { show: true, lineStyle: { color: '#e4e4e4', type: [3, 3], width: 1 } } });
  // major x axis
  xAxes.push({ type: 'value', gridIndex: g, position: 'bottom', min: 0, max: c.max, interval: 30,
    axisLine: { show: true, onZero: false, lineStyle: { color: '#000', width: 1 } },
    axisTick: { show: true, length: 7, lineStyle: { color: '#000' } },
    axisLabel: { show: ri === 2, margin: 12, fontSize: 20, fontFamily: FONT, color: TXT,
      formatter: v => (c.ticks.indexOf(v) >= 0) ? String(v) : '' },
    splitLine: { show: true, lineStyle: { color: '#b8b8b8', width: 1 } },
    name: ri === 2 ? 'Days' : '', nameLocation: 'middle', nameGap: 46,
    nameTextStyle: { fontSize: 22, fontFamily: FONT, color: TXT } });
  const yName = ci === 0 ? ['pH', 'Conductivity (μS/cm)', 'Rainfall\n(mm/day)'][ri] : '';
  yAxes.push({ type: 'value', gridIndex: g, min: r.min, max: r.max, interval: r.interval,
    axisLine: { show: true, onZero: false, lineStyle: { color: '#000', width: 1 } },
    axisTick: { show: true, length: 7, lineStyle: { color: '#000' } },
    minorTick: { show: true, splitNumber: 2, length: 4, lineStyle: { color: '#000' } },
    axisLabel: { margin: 11, fontSize: 20, fontFamily: FONT, color: TXT, formatter: v => String(v) },
    splitLine: { show: true, lineStyle: { color: '#b8b8b8', width: 1 } },
    minorSplitLine: { show: true, lineStyle: { color: '#e4e4e4', type: [3, 3], width: 1 } },
    name: yName, nameLocation: 'middle', nameRotate: 90,
    nameGap: [61, 97, 61][ri],
    nameTextStyle: { fontSize: 22, fontFamily: FONT, color: TXT, lineHeight: 22 } });
}));

function lineSeries(name, data, g, color) {
  series.push({ type: 'line', name, data, xAxisIndex: 2 * g + 1, yAxisIndex: g,
    showSymbol: false, symbol: 'none', clip: true, silent: true,
    lineStyle: { color, width: 3.2 }, itemStyle: { color } });
}
function barSeries(name, data, g, color, w) {
  series.push({ type: 'bar', name, data, xAxisIndex: 2 * g + 1, yAxisIndex: g,
    barWidth: w, barGap: '-100%', silent: true, itemStyle: { color } });
}

lineSeries(wrlNames[0], wrlPh2023, 0, colWRL[0]);
lineSeries(wrlNames[1], wrlPh2024, 0, colWRL[1]);
lineSeries(grnNames[0], grnPh2002, 1, colGRN[0]);
lineSeries(grnNames[1], grnPh2003, 1, colGRN[1]);
lineSeries(grnNames[2], grnPh2004, 1, colGRN[2]);
lineSeries(wrlNames[0], wrlEc2023, 2, colWRL[0]);
lineSeries(wrlNames[1], wrlEc2024, 2, colWRL[1]);
lineSeries(grnNames[0], grnEc2002, 3, colGRN[0]);
lineSeries(grnNames[1], grnEc2003, 3, colGRN[1]);
lineSeries(grnNames[2], grnEc2004, 3, colGRN[2]);
barSeries('R:' + wrlNames[0], wrlRain2023, 4, colWRL[0], 6);
barSeries('R:' + wrlNames[1], wrlRain2024, 4, colWRL[1], 6);
barSeries('R:' + grnNames[0], grnRain2002, 5, colGRN[0], 5);
barSeries('R:' + grnNames[1], grnRain2003, 5, colGRN[1], 5);
barSeries('R:' + grnNames[2], grnRain2004, 5, colGRN[2], 5);

const legText = { fontSize: 21, fontFamily: FONT, color: TXT, lineHeight: 20, padding: [0, 0, 0, 13] };
function lineLegend(names, colors, left, top) {
  legends.push({ orient: 'vertical', left, top, padding: 0, itemGap: 13.5, selectedMode: false,
    itemWidth: 46, itemHeight: 3, textStyle: legText,
    data: names.map((n, i) => ({ name: n, icon: 'rect', itemStyle: { color: colors[i], borderWidth: 0 } })) });
}
function barLegend(names, colors, left, top) {
  legends.push({ orient: 'horizontal', left, top, padding: 0, itemGap: 14, selectedMode: false,
    itemWidth: 43, itemHeight: 15, textStyle: Object.assign({}, legText, { width: 95 }),
    formatter: n => n.slice(2),
    data: names.map((n, i) => ({ name: 'R:' + n, icon: 'rect', itemStyle: { color: colors[i], borderWidth: 0 } })) });
}
lineLegend(wrlNames, colWRL, 599, 329);
lineLegend(wrlNames, colWRL, 599, 723);
lineLegend(grnNames, colGRN, 1373, 296);
lineLegend(grnNames, colGRN, 1373, 688);
barLegend(wrlNames, colWRL, 431, 846);
barLegend(grnNames, colGRN, 1035, 846);

const chart = echarts.init(document.getElementById('c'), null, { renderer: 'canvas' });
chart.setOption({
  animation: false,
  backgroundColor: '#fff',
  textStyle: { fontFamily: FONT },
  title: [
    { text: 'WRL', left: 457, top: 12, textAlign: 'center', padding: 0,
      textStyle: { fontSize: 22, fontWeight: 'normal', fontFamily: FONT, color: TXT } },
    { text: 'Greenspan', left: 1230, top: 12, textAlign: 'center', padding: 0,
      textStyle: { fontSize: 22, fontWeight: 'normal', fontFamily: FONT, color: TXT } }
  ],
  grid: grids, xAxis: xAxes, yAxis: yAxes, series, legend: legends
});
</script></body></html>
